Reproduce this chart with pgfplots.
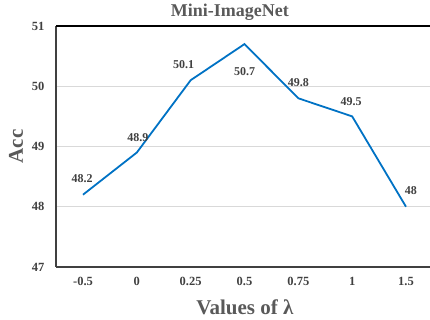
\documentclass[border=0pt]{standalone}
\usepackage{pgfplots}
\pgfplotsset{compat=1.18}
\usepackage{fontspec}
\setmainfont{Liberation Serif}
\definecolor{lineblue}{RGB}{0,114,196}
\definecolor{titlegray}{RGB}{89,89,89}
\definecolor{tickgray}{RGB}{64,64,64}
\definecolor{gridgray}{RGB}{217,217,217}
\begin{document}
\begin{tikzpicture}
\begin{axis}[
  at={(0,0)}, anchor=south west,
  scale only axis, width=374pt, height=241pt,
  xmin=-0.5016, xmax=6.446, ymin=47, ymax=51,
  xtick={0,1,2,3,4,5,6},
  xticklabels={-0.5,0,0.25,0.5,0.75,1,1.5},
  ytick={47,48,49,50,51},
  major tick length=0pt,
  /pgf/number format/assume math mode=true,
  ticklabel style={font=\fontsize{12.5}{14}\selectfont\bfseries, text=tickgray},
  yticklabel style={xshift=-8pt},
  xticklabel style={yshift=-7pt},
  axis x line*=bottom, axis y line*=left,
  x axis line style={draw=tickgray, line width=1.8pt, -},
  y axis line style={draw=tickgray, line width=1.3pt, -},
  ymajorgrids, grid style={gridgray, line width=0.8pt},
  extra y ticks={51}, extra y tick labels={},
  extra y tick style={grid=major, major grid style={black, line width=1.3pt}},
  xlabel={Values of λ},
  xlabel style={at={(axis description cs:0.505,-0.166)}, anchor=center, font=\fontsize{21}{24}\selectfont\bfseries, text=titlegray},
  ylabel={Acc},
  ylabel style={at={(axis description cs:-0.107,0.5)}, anchor=center, font=\fontsize{21}{24}\selectfont\bfseries, text=titlegray},
  clip=false,
]
\addplot[color=lineblue, line width=1.8pt, mark=none,
  nodes near coords,
  point meta=explicit symbolic,
  visualization depends on={\thisrow{dx}\as\dx},
  visualization depends on={\thisrow{dy}\as\dy},
  every node near coord/.append style={anchor=center, xshift=\dx pt, yshift=\dy pt, font=\fontsize{12}{14}\selectfont\bfseries, text=tickgray},
] table[x=x, y=y, meta=lab] {
x y dx dy lab
0 48.2 -1 16 48.2
1 48.9 1 15 48.9
2 50.1 -7 16 50.1
3 50.7 0 -28 50.7
4 49.8 0 16 49.8
5 49.5 -1 15 49.5
6 48.0 5 16 48
};
\node[anchor=center, font=\fontsize{18}{20}\selectfont\bfseries, text=titlegray] at (axis description cs:0.465,1.058) {Mini-ImageNet};
\end{axis}
\pgfresetboundingbox
\useasboundingbox (-56pt,-53pt) rectangle (374pt,267pt);
\end{tikzpicture}
\end{document}
